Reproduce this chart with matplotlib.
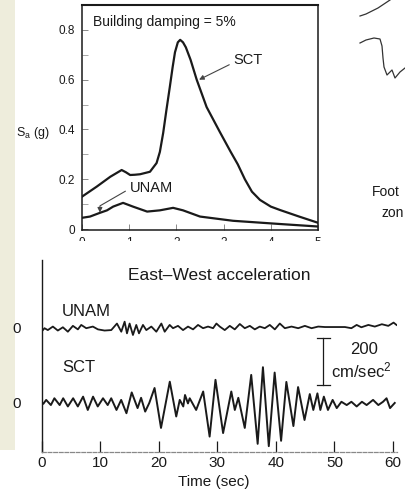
import matplotlib
matplotlib.use("Agg")
import matplotlib.pyplot as plt
from matplotlib.patches import Rectangle
from matplotlib.lines import Line2D

plt.rcParams['font.family'] = ['Liberation Sans', 'DejaVu Sans']
plt.rcParams['mathtext.fontset'] = 'custom'
plt.rcParams['mathtext.rm'] = 'Liberation Sans'
plt.rcParams['mathtext.it'] = 'Liberation Sans'

INK = '#1a1a1a'

# response spectrum, 5% damping (period in s, Sa in g)
sct_period = [0, 0.31, 0.6, 0.84, 0.93, 1.02, 1.12, 1.23, 1.44, 1.58, 1.65,
              1.72, 1.79, 1.86, 1.92, 1.97, 2.03, 2.08, 2.14, 2.2, 2.3, 2.43,
              2.64, 2.92, 3.15, 3.3, 3.45, 3.6, 3.77, 4.0, 4.2, 4.6, 5.0]
sct_sa = [0.13, 0.17, 0.21, 0.237, 0.228, 0.217, 0.218, 0.22, 0.23, 0.265,
          0.31, 0.386, 0.48, 0.57, 0.65, 0.71, 0.75, 0.76, 0.75, 0.73, 0.68,
          0.6, 0.49, 0.39, 0.31, 0.26, 0.2, 0.15, 0.117, 0.09, 0.076, 0.05,
          0.025]
unam_period = [0, 0.17, 0.38, 0.53, 0.66, 0.87, 1.08, 1.38, 1.65, 1.93, 2.14,
               2.5, 3.2, 4.2, 5.0]
unam_sa = [0.045, 0.05, 0.065, 0.075, 0.09, 0.105, 0.09, 0.07, 0.075, 0.085,
           0.075, 0.05, 0.033, 0.02, 0.01]

# east-west acceleration records (time in s, acceleration in cm/s^2)
sct_time = [0.0, 0.3, 0.8, 1.6, 2.2, 3.1, 3.7, 4.5, 5.4, 6.2, 7.1, 7.9, 8.8,
            9.6, 10.5, 11.3, 11.9, 12.8, 13.6, 14.5, 15.4, 16.4, 17.0, 17.7,
            18.4, 19.3, 20.4, 21.9, 23.0, 23.6, 24.2, 24.5, 25.0, 25.3, 26.4,
            27.6, 28.7, 29.7, 31.0, 32.4, 33.0, 33.6, 34.7, 35.8, 36.9, 37.8,
            38.8, 39.8, 40.9, 41.8, 43.0, 43.8, 44.9, 45.8, 46.4, 47.1, 47.6,
            48.2, 48.9, 49.7, 50.4, 51.2, 52.1, 52.9, 53.8, 54.7, 55.5, 56.6,
            57.5, 58.3, 58.9, 59.5, 60.3]
sct_acc = [4, -4, 13, -9, 20, -9, 20, -15, 20, -15, 27, -30, 27, -15, 20, -9,
           20, -30, 13, -44, 45, -22, 22, -37, 0, 64, -107, 91, -58, 13, -15,
           34, -2, 20, -30, 49, -144, 99, -129, 49, -30, 22, -107, 120, -175,
           153, -185, 130, -162, 90, -99, 68, -73, 38, -30, 41, -30, 27, -30,
           13, -22, 5, -9, 5, -15, 5, -9, 13, -9, 5, 20, -22, 0]
unam_time = [0.0, 0.51, 1.08, 1.94, 2.79, 3.65, 4.5, 5.36, 6.21, 6.78, 7.64,
             8.77, 9.63, 10.77, 11.91, 12.88, 13.62, 14.19, 14.59, 15.04,
             15.61, 16.18, 16.64, 17.32, 17.89, 18.75, 19.6, 20.46, 21.03,
             21.88, 22.45, 23.3, 24.16, 25.01, 25.87, 26.72, 27.58, 28.43,
             29.29, 29.86, 30.43, 31.28, 32.14, 32.99, 33.85, 34.7, 35.56,
             36.41, 37.26, 38.12, 38.97, 39.83, 40.68, 41.54, 42.68, 43.82,
             44.96, 46.1, 47.24, 48.38, 49.52, 50.66, 51.8, 52.9, 53.8, 54.6,
             55.8, 56.9, 58.1, 59.2, 60.1, 60.6]
unam_acc = [-20, -5, -13, 2, -15, -1, -20, 5, -10, 9, -5, 2, -10, -15, -13,
            15, -20, 23, -27, 15, -34, 9, -27, 9, -13, 2, -20, 15, -20, 9, -5,
            5, -13, 2, -10, 9, -5, 2, -5, 15, 2, -13, 5, -10, 13, -5, 5, -10,
            2, -5, 9, -10, 15, -5, 2, -5, 5, -5, 2, 0, 0, 0, 0, -5, 9, -1, 9,
            2, 12, 5, 19, 9]

W, H = 405, 496
fig = plt.figure(figsize=(W / 100, H / 100), dpi=100)


def fx(px):
    return px / W


def fy(py):
    return 1 - py / H


# scanned page edge on the left
fig.add_artist(Rectangle((0, fy(450)), fx(15), 450 / H, transform=fig.transFigure,
                         facecolor='#eeeddc', edgecolor='none', zorder=0))

# ---- top panel: response spectra ----
ax1 = fig.add_axes([fx(82), fy(230), fx(236), 225 / H])
ax1.plot(sct_period, sct_sa, color=INK, lw=1.6, solid_joinstyle='round')
ax1.plot(unam_period, unam_sa, color=INK, lw=1.6, solid_joinstyle='round')
ax1.set_xlim(0, 5)
ax1.set_ylim(-0.004, 0.9)
ax1.set_xticks(range(6))
ax1.set_yticks([0, 0.2, 0.4, 0.6, 0.8])
ax1.set_yticklabels(['0', '0.2', '0.4', '0.6', '0.8'])
ax1.set_yticks([0.1, 0.3, 0.5, 0.7], minor=True)
ax1.tick_params(direction='in', length=4, width=0.6, color='#777777',
                labelsize=8.5, labelcolor=INK, pad=5)
ax1.tick_params(which='minor', direction='in', length=4, width=0.6,
                color='#999999')
for s in ax1.spines.values():
    s.set_color(INK)
    s.set_linewidth(1.1)
ax1.spines['top'].set_linewidth(1.5)

ax1.text(0.23, 0.832, 'Building damping = 5%', fontsize=10, color=INK,
         ha='left', va='center')
ax1.text(3.2, 0.68, 'SCT', fontsize=10.5, color=INK, ha='left', va='center')
ax1.annotate('', xy=(2.48, 0.6), xytext=(3.12, 0.66),
             arrowprops=dict(arrowstyle='-|>', color='#444444', lw=0.8,
                             mutation_scale=7, shrinkA=0, shrinkB=0))
ax1.text(1.02, 0.165, 'UNAM', fontsize=10.5, color=INK, ha='left', va='center')
ax1.annotate('', xy=(0.38, 0.066), xytext=(0.92, 0.152),
             arrowprops=dict(arrowstyle='-|>', color='#444444', lw=0.8,
                             mutation_scale=7, shrinkA=0, shrinkB=0,
                             connectionstyle='angle,angleA=30,angleB=90,rad=0'))
fig.text(fx(33), fy(133), r'S$_\mathrm{a}$ (g)', fontsize=9, color=INK,
         ha='center', va='center')

# bottom of the spectrum tick labels is cut off in the scan
fig.add_artist(Rectangle((fx(55), fy(257)), fx(290), 16 / H,
                         transform=fig.transFigure, facecolor='white',
                         edgecolor='none', zorder=10))

# ---- bottom panel: acceleration records ----
UNAM_OFFSET = 325
ax2 = fig.add_axes([fx(41.5), fy(452), fx(355.5), 192 / H])
ax2.plot(sct_time, sct_acc, color=INK, lw=1.4, solid_joinstyle='round')
ax2.plot(unam_time, [a + UNAM_OFFSET for a in unam_acc], color=INK, lw=1.3,
         solid_joinstyle='round')
ax2.set_xlim(0, 355.5 / 5.858)
ax2.set_ylim(-210, 612)
ax2.set_xticks(range(0, 61, 10))
ax2.set_yticks([0, UNAM_OFFSET])
ax2.set_yticklabels(['0', '0'])
ax2.tick_params(axis='x', direction='in', length=8, width=0.9, color=INK,
                labelsize=11, labelcolor=INK, pad=3)
ax2.tick_params(axis='y', length=0, labelsize=11, labelcolor=INK, pad=15)
ax2.spines['top'].set_visible(False)
ax2.spines['right'].set_visible(False)
ax2.spines['left'].set_color(INK)
ax2.spines['left'].set_linewidth(1.0)
ax2.spines['bottom'].set_color('#888888')
ax2.spines['bottom'].set_linewidth(0.9)
ax2.spines['bottom'].set_linestyle((0, (3, 1.5)))

# 200 cm/s^2 scale bar
bar_t, bar_lo, bar_len, cap = 48.1, 77, 200, 1.15
ax2.plot([bar_t, bar_t], [bar_lo, bar_lo + bar_len], color=INK, lw=0.9)
ax2.plot([bar_t - cap, bar_t + cap], [bar_lo, bar_lo], color=INK, lw=0.9)
ax2.plot([bar_t - cap, bar_t + cap], [bar_lo + bar_len] * 2, color=INK, lw=0.9)
fig.text(fx(364), fy(349), '200', fontsize=12, color=INK, ha='center',
         va='center')
fig.text(fx(361), fy(370), r'cm/sec$^2$', fontsize=12, color=INK,
         ha='center', va='center')

fig.text(fx(219), fy(276), 'East\u2013West acceleration', fontsize=12.5,
         color=INK, ha='center', va='center')
fig.text(fx(62), fy(311), 'UNAM', fontsize=12, color=INK, ha='left',
         va='center')
fig.text(fx(62), fy(367), 'SCT', fontsize=12, color=INK, ha='left',
         va='center')
fig.text(fx(214), fy(482), 'Time (sec)', fontsize=11, color=INK, ha='center',
         va='center')

# fragments of the neighbouring map figure, cut by the page crop
fig.text(fx(372), fy(192), 'Foot', fontsize=10, color=INK, ha='left',
         va='center')
fig.text(fx(381), fy(213), 'zon', fontsize=10, color=INK, ha='left',
         va='center')
arc_x = [360, 366, 372, 378, 384, 390]
arc_y = [16, 14, 11, 8, 4, 0]
fig.add_artist(Line2D([fx(v) for v in arc_x], [fy(v) for v in arc_y],
                      transform=fig.transFigure, color='#333333', lw=0.9))
wig_x = [360, 366, 374, 380, 382, 383, 384, 387, 392, 395, 400, 405]
wig_y = [43, 40, 38, 39, 46, 58, 67, 75, 70, 78, 72, 68]
fig.add_artist(Line2D([fx(v) for v in wig_x], [fy(v) for v in wig_y],
                      transform=fig.transFigure, color='#333333', lw=0.9))

fig.savefig('out.png', dpi=100, facecolor='white')
